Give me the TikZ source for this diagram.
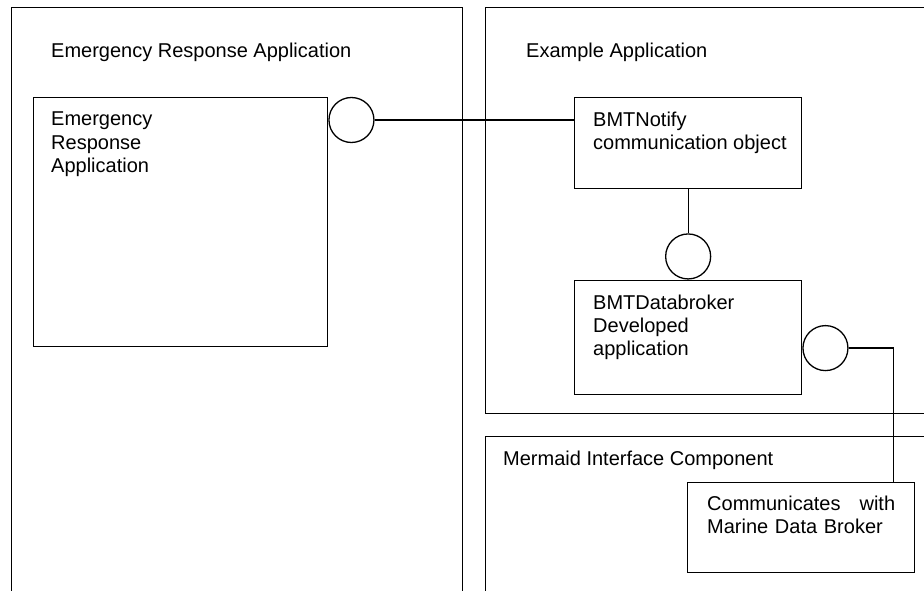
\documentclass[tikz,border=0pt]{standalone}
\usepackage{fontspec}
\setmainfont{Liberation Sans}
\usetikzlibrary{calc,positioning}
\tikzset{
  container/.style={
    rectangle,
    draw=black, line width=1.3pt,
    anchor=north west,
    inner sep=0pt},
  compbox/.style={
    rectangle,
    % fill=black!10,
    draw=black, line width=1.3pt,
    anchor=north west,
    minimum width=227pt,
    inner sep=0pt},
  boxlabel/.style={anchor=north west, align=left, inner sep=0pt},
  port/.style={
    circle,
    draw=black, line width=1.3pt,
    minimum size=45pt,
    inner sep=0pt},
  line/.style={draw, line width=1.3pt},
  every node/.style={font=\fontsize{20pt}{23.3pt}\selectfont}
}

\begin{document}
\begin{tikzpicture}[x=1pt, y=-1pt, node distance=0pt]
  \path[use as bounding box, clip] (0,0) rectangle (924,591);

  % the three containers, cut off by the page edge
  \node[container, minimum width=451pt, minimum height=700pt,
    label={[boxlabel, xshift=40pt, yshift=-36pt]north west:Emergency Response Application}]
    (erapp) at (11,7) {};
  \node[container, minimum width=470pt, minimum height=406pt,
    label={[boxlabel, xshift=41pt, yshift=-36pt]north west:Example Application}]
    (exapp) at (485,7) {};
  \node[container, minimum width=470pt, minimum height=300pt,
    label={[boxlabel, xshift=18pt, yshift=-15pt]north west:Mermaid Interface Component}]
    (mermaid) at (485,436) {};

  \node[compbox, minimum width=294pt, minimum height=249pt,
    label={[boxlabel, xshift=18pt, yshift=-15pt]north west:Emergency\\Response\\Application}]
    (erbox) at (33,97) {};
  \node[port, right=of erbox.north east, yshift=-23pt] (erport) {};

  \node[compbox, minimum height=91pt,
    label={[boxlabel, xshift=19pt, yshift=-15pt]north west:BMTNotify\\communication object}]
    (notify) at (574,97) {};
  \node[port, below=44pt of notify] (nfport) {};

  \node[compbox, below=of nfport, minimum height=114pt,
    label={[boxlabel, xshift=19pt, yshift=-15pt]north west:BMTDatabroker\\Developed\\application}]
    (dbroker) {};
  \node[port, right=of dbroker.north east, yshift=-68.5pt] (dbport) {};

  \node[compbox, minimum height=90pt,
    label={[boxlabel, text width=188pt, xshift=20pt, yshift=-14pt]north west:Communicates\hfill with\\Marine Data Broker}]
    (comm) at (687,482) {};
  \coordinate (commtap) at ([xshift=-22pt]comm.north east);

  \path[line] (erport.east) -- (erport.east -| notify.west);
  \path[line] (notify.south) -- (nfport.north);
  \path[line] (dbport.east) -| (commtap);
\end{tikzpicture}
\end{document}
